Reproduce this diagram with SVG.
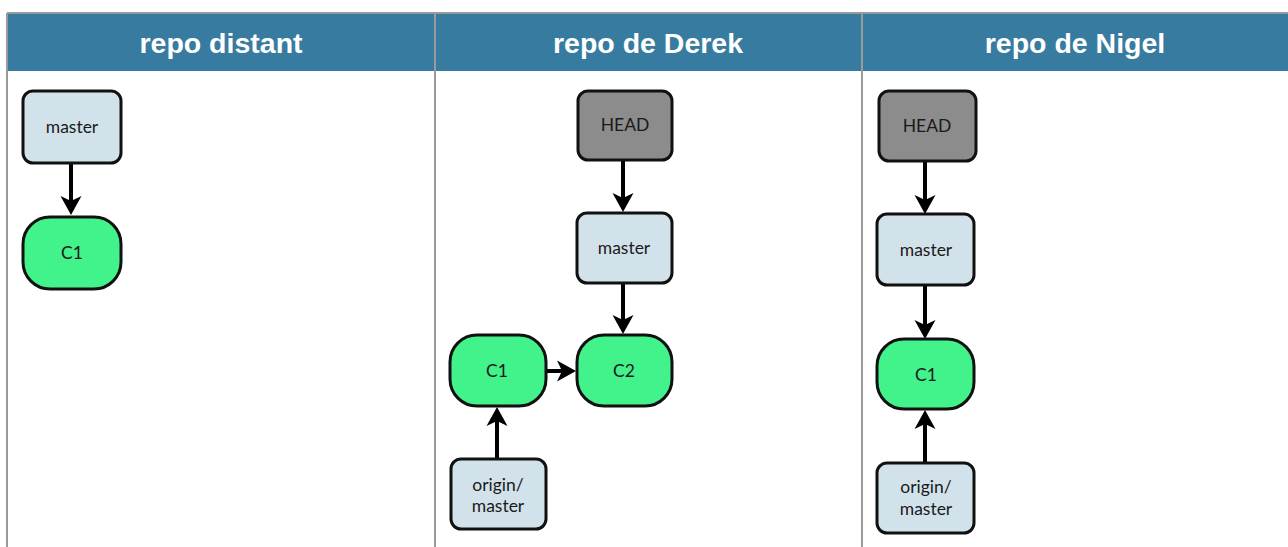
<svg xmlns="http://www.w3.org/2000/svg" width="1288" height="547" viewBox="0 0 1288 547">
<style>
.hdr{fill:#377ca0}
.grid{stroke:#9a9a9a;stroke-width:2;fill:none}
.htxt{font-family:"Liberation Sans",Arial,sans-serif;font-weight:bold;font-size:28.5px;fill:#fff;text-anchor:middle}
.ref{fill:#d2e2eb;stroke:#111;stroke-width:3}
.head{fill:#8c8c8c;stroke:#111;stroke-width:3}
.commit{fill:#42f28b;stroke:#111;stroke-width:3}
.lbl{font-family:Lato,"Liberation Sans",sans-serif;font-size:17.5px;fill:#1a1a1a;text-anchor:middle}
.edge{stroke:#000;stroke-width:4;fill:none;marker-end:url(#ah)}
</style>
<defs>
<marker id="ah" markerUnits="userSpaceOnUse" markerWidth="24" markerHeight="24" viewBox="-21 -12 23 24" refX="-8" refY="0" orient="auto">
<path d="M-19,-10.5 L0,0 L-19,10.5 L-14,0 Z" fill="#000"/>
</marker>
</defs>
<rect width="1288" height="547" fill="#fff"/>
<g id="table">
<rect class="hdr" x="7" y="13" width="1281" height="58"/>
<line class="grid" x1="7" y1="13" x2="1288" y2="13"/>
<line class="grid" x1="7" y1="13" x2="7" y2="547"/>
<line class="grid" x1="435" y1="13" x2="435" y2="547"/>
<line class="grid" x1="862" y1="13" x2="862" y2="547"/>
<text class="htxt" x="221" y="53">repo distant</text>
<text class="htxt" x="648" y="53">repo de Derek</text>
<text class="htxt" x="1075" y="53">repo de Nigel</text>
</g>
<g id="connectors">
<line class="edge" x1="71" y1="163" x2="71" y2="207"/>
<line class="edge" x1="623" y1="160" x2="623" y2="204"/>
<line class="edge" x1="623" y1="283" x2="623" y2="326"/>
<line class="edge" x1="546" y1="371" x2="568" y2="371"/>
<line class="edge" x1="497" y1="459" x2="497" y2="415"/>
<line class="edge" x1="925" y1="161" x2="925" y2="206"/>
<line class="edge" x1="925" y1="285" x2="925" y2="331"/>
<line class="edge" x1="925" y1="463" x2="925" y2="418"/>
</g>
<g id="distant-master"><rect class="ref" x="23" y="91" width="98" height="72" rx="10"/><text class="lbl" x="72" y="133">master</text></g>
<g id="distant-c1"><rect class="commit" x="23" y="217" width="98" height="72" rx="27"/><text class="lbl" x="72" y="259">C1</text></g>
<g id="derek-head"><rect class="head" x="578" y="91" width="94" height="69" rx="10"/><text class="lbl" x="625" y="131">HEAD</text></g>
<g id="derek-master"><rect class="ref" x="577" y="213" width="95" height="70" rx="10"/><text class="lbl" x="624" y="254">master</text></g>
<g id="derek-c1"><rect class="commit" x="450" y="335" width="96" height="71" rx="27"/><text class="lbl" x="497" y="377">C1</text></g>
<g id="derek-c2"><rect class="commit" x="577" y="335" width="95" height="71" rx="27"/><text class="lbl" x="624" y="377">C2</text></g>
<g id="derek-origin"><rect class="ref" x="451" y="459" width="95" height="70" rx="10"/><text class="lbl" x="498" y="491">origin/</text><text class="lbl" x="498" y="512">master</text></g>
<g id="nigel-head"><rect class="head" x="879" y="91" width="97" height="70" rx="10"/><text class="lbl" x="927" y="132">HEAD</text></g>
<g id="nigel-master"><rect class="ref" x="877" y="214" width="97" height="71" rx="10"/><text class="lbl" x="926" y="256">master</text></g>
<g id="nigel-c1"><rect class="commit" x="877" y="339" width="97" height="70" rx="27"/><text class="lbl" x="926" y="381">C1</text></g>
<g id="nigel-origin"><rect class="ref" x="877" y="463" width="97" height="70" rx="10"/><text class="lbl" x="926" y="493">origin/</text><text class="lbl" x="926" y="515">master</text></g>
</svg>
